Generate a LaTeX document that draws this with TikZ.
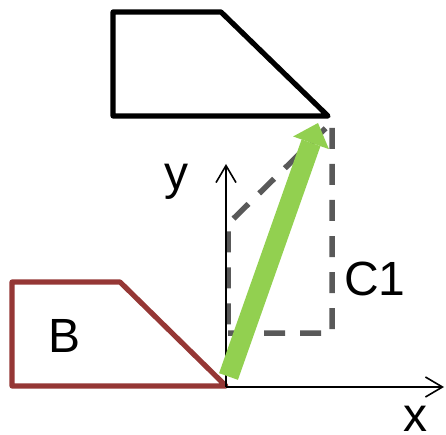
\documentclass[tikz,border=0pt]{standalone}
\usepackage{fontspec}
\setmainfont{Liberation Sans}
\usetikzlibrary{arrows.meta}
\definecolor{bred}{HTML}{953735}
\definecolor{vgreen}{HTML}{92D050}
\definecolor{dgray}{HTML}{595959}
\begin{document}
\begin{tikzpicture}[x=1pt,y=-1pt,
  shapeline/.style={line width=5.2pt,line join=round},
  axisline/.style={line width=1.6pt,-{Straight Barb[length=17pt,width=20pt,line width=1.6pt]}},
  dashline/.style={dgray,line width=5.5pt,dash pattern=on 21pt off 15pt},
  vecline/.style={vgreen,line width=20pt,-{Triangle[length=21pt,width=38pt,line width=0pt]}},
  lbl/.style={font=\fontsize{48}{48}\selectfont,inner sep=0pt,anchor=base}]
\useasboundingbox (0,0) rectangle (446,435);
% coordinates
\coordinate (O) at (226,387);
\coordinate (xend) at (444,387);
\coordinate (yend) at (226,164);
\coordinate (t1) at (113,12);
\coordinate (t2) at (221,12);
\coordinate (t3) at (328,116);
\coordinate (t4) at (113,116);
\coordinate (b1) at (12,282);
\coordinate (b2) at (120,282);
\coordinate (b3) at (226,386);
\coordinate (b4) at (12,386);
\coordinate (c1) at (228,333);
\coordinate (c2) at (332,333);
\coordinate (c3) at (332,122);
\coordinate (c4) at (228,224);
\coordinate (g0) at (228.5,376.5);
\coordinate (g1) at (318,123);
% shapes
\draw[shapeline] (t1) -- (t2) -- (t3) -- (t4) -- cycle;
\draw[shapeline,bred] (b1) -- (b2) -- (b3) -- (b4) -- cycle;
\draw[dashline] (c1) -- (c2) -- (c3) -- (c4) -- cycle;
% axes
\draw[axisline] (O) -- (xend);
\draw[axisline] (O) -- (yend);
% vector
\draw[vecline] (g0) -- (g1);
% labels
\node[lbl] (ly) at (176,190) {y};
\node[lbl] (lx) at (415,431) {x};
\node[lbl] (lc) at (375,295) {C1};
\node[lbl] (lb) at (65,352) {B};
\end{tikzpicture}
\end{document}
